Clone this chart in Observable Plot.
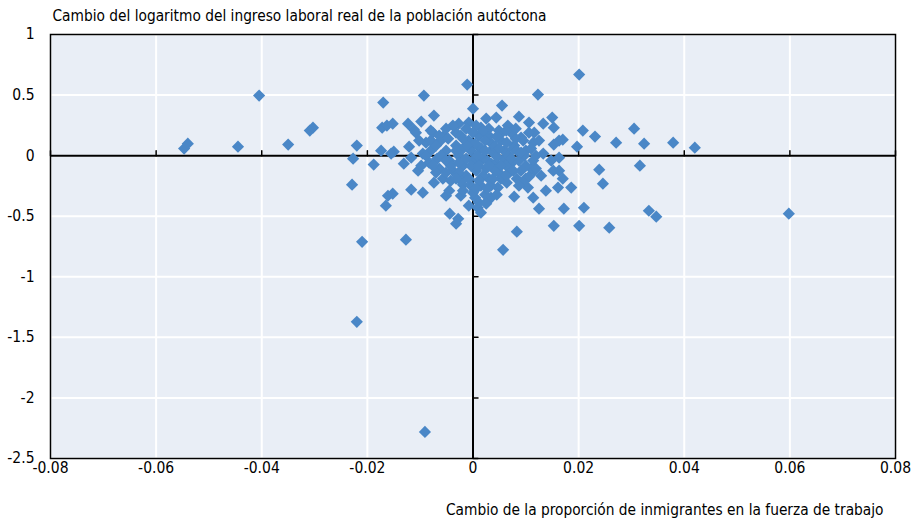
<!DOCTYPE html>
<html>
<head>
<meta charset="utf-8">
<script src="https://cdn.jsdelivr.net/npm/d3@7"></script>
<script src="https://cdn.jsdelivr.net/npm/@observablehq/plot@0.6"></script>
<style>
  html, body { margin: 0; padding: 0; background: #fff; }
</style>
</head>
<body>
<div id="chart"></div>
<script>
const titleY = "Cambio del logaritmo del ingreso laboral real de la población autóctona";
const titleX = "Cambio de la proporción de inmigrantes en la fuerza de trabajo";
const xTicks = [-0.08, -0.06, -0.04, -0.02, 0, 0.02, 0.04, 0.06, 0.08];
const yTicks = [1, 0.5, 0, -0.5, -1, -1.5, -2, -2.5];

// Change in immigrant share (x) and change in log real labour income of natives (y)
const xVals = [
-0.0547,-0.0540,-0.0445,-0.0405,-0.0350,-0.0309,-0.0303,-0.0220,-0.0227,-0.0229,
-0.0210,-0.0220,-0.0091,-0.0127,-0.0170,-0.0172,-0.0163,-0.0188,-0.0165,-0.0161,
-0.0174,-0.0150,-0.0152,-0.0121,-0.0123,-0.0112,-0.0098,-0.0093,-0.0074,-0.0011,
0.0000,-0.0027,-0.0008,-0.0108,-0.0117,-0.0131,-0.0095,-0.0076,-0.0055,-0.0032,
-0.0104,-0.0152,-0.0117,-0.0095,-0.0074,-0.0051,-0.0019,0.0004,-0.0044,-0.0028,
-0.0032,0.0009,0.0028,0.0047,0.0068,0.0078,0.0100,0.0104,0.0114,0.0138,
0.0161,0.0186,0.0163,0.0170,0.0116,0.0125,0.0172,0.0210,0.0083,0.0153,
0.0201,0.0057,0.0197,0.0239,0.0246,0.0201,0.0208,0.0231,0.0271,0.0305,
0.0324,0.0379,0.0420,0.0170,0.0316,0.0333,0.0347,0.0258,0.0598,0.0123,
0.0150,0.0055,0.0087,0.0025,0.0044,0.0066,0.0106,0.0133,0.0153,0.0163,
0.0153,0.0116,0.0133,0.0163,0.0114,0.0091,0.0078,0.0097,0.0053,0.0030,
0.0015,0.0009,0.0034,0.0059,0.0072,0.0148,0.0009,0.0034,0.0110,0.0152,
0.0034,0.0011,0.0097,-0.0155,
-0.0061,-0.0051,-0.0045,-0.0038,-0.0032,-0.0027,-0.0019,-0.0013,-0.0008,-0.0004,
0.0000,0.0006,0.0011,0.0015,0.0019,0.0025,0.0030,0.0034,0.0038,0.0044,
0.0049,0.0053,0.0059,0.0063,0.0068,0.0076,0.0081,0.0087,0.0091,0.0100,
0.0106,0.0114,0.0125,-0.0068,-0.0064,-0.0057,-0.0042,-0.0023,-0.0004,0.0015,
0.0034,0.0053,-0.0013,0.0006,0.0030,0.0049,0.0072,-0.0051,-0.0076,-0.0080,
-0.0083,-0.0070,-0.0089,-0.0098,-0.0102,-0.0019,0.0004,0.0023,0.0042,0.0064,
0.0083,0.0008,0.0027,0.0045,-0.0027,-0.0004,0.0019,0.0042,0.0064,0.0083,
0.0106,0.0129,-0.0045,-0.0023,0.0000,0.0023,0.0045,-0.0008,0.0015,0.0025,
-0.0080,-0.0064,-0.0047,-0.0038,-0.0023,-0.0011,0.0000,0.0023,0.0045,0.0063,
0.0081,0.0095,0.0110,0.0119,-0.0061,-0.0042,-0.0027,-0.0013,0.0011,0.0030,
0.0053,0.0076,0.0100,0.0119,-0.0051,-0.0032,-0.0008,0.0011,0.0038,0.0063,
0.0087,-0.0080,-0.0089,-0.0076,-0.0019,0.0006,0.0027,-0.0019,0.0019,0.0072,
0.0091,0.0049,-0.0032,-0.0051,-0.0070
];
const yVals = [
0.058,0.099,0.074,0.496,0.091,0.207,0.231,0.083,-0.025,-0.240,
-0.711,-1.372,-2.281,-0.694,0.438,0.231,0.248,-0.074,-0.413,-0.331,
0.041,0.033,0.264,0.074,0.264,0.215,0.281,0.496,0.331,0.587,
0.388,0.264,0.273,0.190,-0.017,-0.066,0.017,0.107,0.165,0.190,
-0.124,-0.314,-0.281,-0.306,-0.223,-0.331,-0.240,-0.347,-0.479,-0.521,
-0.562,-0.430,-0.372,-0.264,-0.140,-0.339,-0.190,-0.264,-0.347,-0.289,
-0.264,-0.264,-0.124,-0.190,-0.124,-0.438,-0.438,-0.430,-0.628,-0.579,
-0.579,-0.777,0.074,-0.116,-0.231,0.669,0.207,0.157,0.107,0.223,
0.099,0.107,0.066,0.132,-0.083,-0.455,-0.504,-0.595,-0.479,0.504,
0.314,0.413,0.322,0.306,0.314,0.248,0.273,0.264,0.231,0.124,
0.091,0.190,0.017,-0.017,0.107,0.149,0.083,0.000,0.182,0.165,
0.231,0.083,0.041,-0.025,-0.066,-0.041,-0.041,-0.066,-0.107,-0.124,
-0.347,-0.388,-0.207,0.017,
0.124,0.041,-0.041,-0.124,0.083,0.000,-0.083,-0.165,0.124,0.041,
-0.041,-0.124,0.165,0.058,-0.025,-0.107,-0.190,0.107,0.025,-0.058,
-0.140,0.124,0.041,-0.083,0.000,0.058,0.140,-0.041,-0.124,0.041,
0.190,-0.041,0.124,-0.025,-0.107,-0.190,-0.207,-0.207,-0.248,-0.248,
-0.248,-0.190,0.223,0.248,0.223,0.207,0.190,0.223,0.190,0.041,
-0.058,-0.140,0.107,-0.083,0.124,0.058,0.099,0.041,0.074,0.107,
0.041,0.000,-0.041,-0.008,-0.140,-0.083,-0.165,-0.124,-0.223,-0.190,
-0.174,-0.165,-0.289,-0.331,-0.306,-0.322,-0.322,-0.413,-0.471,-0.397,
0.207,0.165,0.140,0.248,0.165,0.083,0.190,0.124,0.157,0.207,
0.223,0.124,0.058,0.000,0.000,-0.083,-0.058,-0.025,-0.083,-0.083,
-0.083,-0.124,-0.083,-0.107,-0.140,-0.190,-0.190,-0.207,-0.190,-0.165,
-0.248,0.124,0.000,-0.083,-0.289,-0.273,-0.273,0.140,0.207,-0.025,
0.025,0.058,0.041,-0.041,0.083
];

const points = xVals.map((x, i) => ({x, y: yVals[i]}));
const fmt = d => String(d);
const tickShape = { draw(context, l) { context.moveTo(0, 0); context.lineTo(0, -l); } };
const fontStack = '"Liberation Sans Narrow", "Arial Narrow", "DejaVu Sans Condensed", sans-serif';

const chart = Plot.plot({
  width: 918,
  height: 519,
  marginTop: 34,
  marginLeft: 50,
  marginRight: 23,
  marginBottom: 61,
  style: {
    fontFamily: fontStack,
    fontSize: "15.5px",
    color: "#000",
    background: "#fff"
  },
  x: { domain: [-0.08, 0.08] },
  y: { domain: [-2.5, 1] },
  marks: [
    Plot.frame({ fill: "#e9eef6", stroke: null }),
    Plot.gridX(xTicks, { stroke: "#fff", strokeOpacity: 1, strokeWidth: 2 }),
    Plot.gridY(yTicks, { stroke: "#fff", strokeOpacity: 1, strokeWidth: 2 }),
    Plot.ruleY([0], { stroke: "#000", strokeWidth: 2 }),
    Plot.ruleX([0], { stroke: "#000", strokeWidth: 2 }),
    Plot.vector(xTicks, { x: d => d, y: 0, length: 5, rotate: 0, anchor: "start", shape: tickShape, stroke: "#000", strokeWidth: 1.5 }),
    Plot.vector(yTicks, { x: 0, y: d => d, length: 5, rotate: 90, anchor: "start", shape: tickShape, stroke: "#000", strokeWidth: 1.5 }),
    Plot.dot(points, { x: "x", y: "y", symbol: "diamond2", r: 5.5, fill: "#4a87c7", stroke: null }),
    Plot.frame({ stroke: "#000", strokeWidth: 1.5 }),
    Plot.axisX(xTicks, { tickFormat: fmt, tickSize: 0, tickPadding: 3, label: null, fill: "#000" }),
    Plot.axisY(yTicks, { tickFormat: fmt, tickSize: 0, tickPadding: 16, label: null, fill: "#000" }),
    Plot.text([titleY], { text: d => d, frameAnchor: "top-left", textAnchor: "start", lineAnchor: "middle", dx: 2, dy: -18, fontSize: 15.3, fill: "#000" }),
    Plot.text([titleX], { text: d => d, frameAnchor: "bottom-right", textAnchor: "end", lineAnchor: "middle", dx: -12, dy: 52, fontSize: 15.3, fill: "#000" })
  ]
});
document.getElementById("chart").appendChild(chart);
</script>
</body>
</html>
